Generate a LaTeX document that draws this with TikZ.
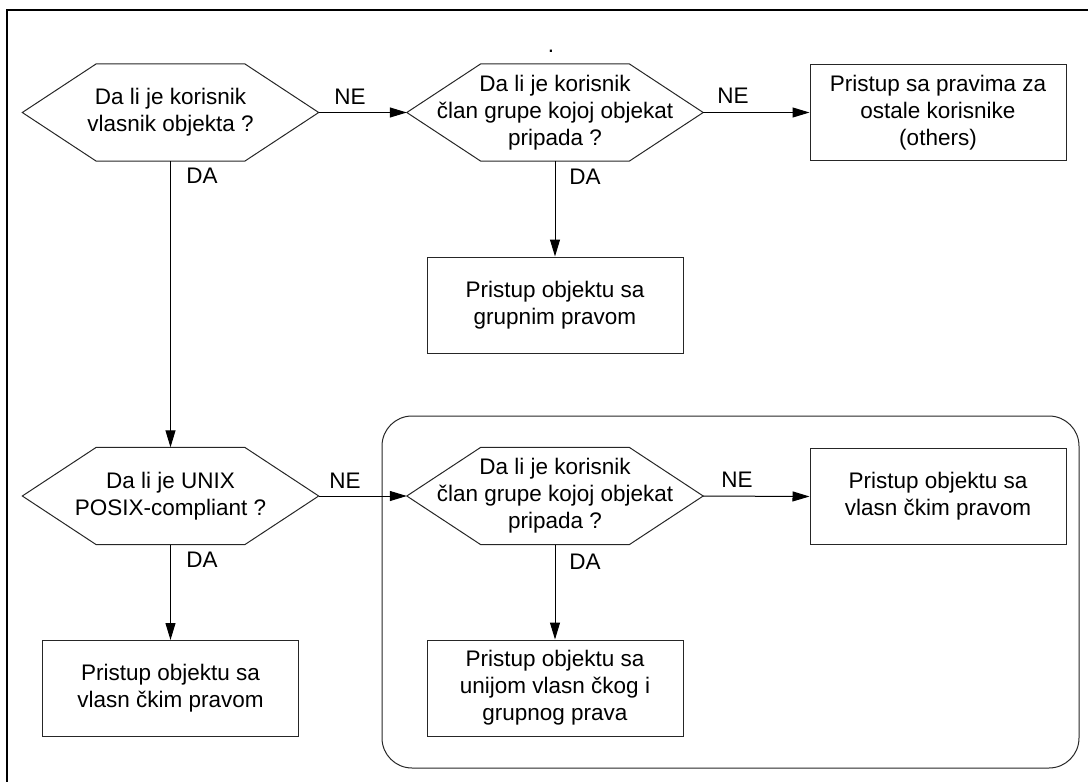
\documentclass[tikz,border=0pt]{standalone}
\usepackage{fontspec}
\setmainfont{Liberation Sans}
\usetikzlibrary{arrows.meta}
\begin{document}
\begin{tikzpicture}[x=1pt,y=-1pt,
  every node/.style={font=\fontsize{22.5}{27}\selectfont, align=center, inner sep=0pt},
  decision/.style={minimum width=296pt, minimum height=97pt},
  action/.style={draw=black!85, line width=1pt, minimum width=256pt, minimum height=96pt},
  shapeline/.style={draw=black!85, line width=1pt},
  arr/.style={line width=1pt, -{Triangle[length=17pt,width=10pt]}},
  lbl/.style={}]
  \useasboundingbox (0,0) rectangle (1088,782);

  % page frame (top and left edges)
  \draw[line width=2.6pt] (7,782) -- (7,10) -- (1088,10);

  % group of POSIX checks
  \draw[shapeline, rounded corners=30pt] (382,416) rectangle (1079,768);

  % decisions
  \node[decision] (q1) at (170.5,112.5) {Da li je korisnik\\vlasnik objekta ?};
  \node[decision] (q2) at (555,112.5) {Da li je korisnik\\član grupe kojoj objekat\\pripada ?};
  \node[decision] (q3) at (170.5,496) {Da li je UNIX\\POSIX-compliant ?};
  \node[decision] (q4) at (555,496) {Da li je korisnik\\član grupe kojoj objekat\\pripada ?};
  \foreach \n in {q1,q2,q3,q4}
    \draw[shapeline] (\n.west) -- ([xshift=74pt]\n.north west) -- ([xshift=-74pt]\n.north east)
      -- (\n.east) -- ([xshift=-74pt]\n.south east) -- ([xshift=74pt]\n.south west) -- cycle;

  % actions
  \node[action] (others) at (938,112.5) {Pristup sa pravima za\\ostale korisnike\\(others)};
  \node[action] (group) at (555,305) {Pristup objektu sa\\grupnim pravom};
  \node[action] (owner) at (170.5,688.5) {Pristup objektu sa\\vlasn čkim pravom};
  \node[action] (owner2) at (938,496.5) {Pristup objektu sa\\vlasn čkim pravom};
  \node[action] (union) at (555,688) {Pristup objektu sa\\unijom vlasn čkog i\\grupnog prava};

  % stray mark above the second decision
  \node (mark) at (551,51) {.};

  % connectors
  \draw[arr] (q1.east) -- (q2.west);
  \draw[arr] (q2.east) -- (others.west);
  \draw[arr] (q2.south) -- (group.north);
  \draw[arr] (q1.south) -- (q3.north);
  \draw[arr] (q3.east) -- (q4.west);
  \draw[arr] (q4.east) -- (owner2.west);
  \draw[arr] (q3.south) -- (owner.north);
  \draw[arr] (q4.south) -- (union.north);

  % branch labels
  \node[lbl] (ne1) at (350,97) {NE};
  \node[lbl] (ne2) at (733,96) {NE};
  \node[lbl] (ne3) at (345,481) {NE};
  \node[lbl] (ne4) at (737,480) {NE};
  \node[lbl] (da1) at (202,176) {DA};
  \node[lbl] (da2) at (585,177) {DA};
  \node[lbl] (da3) at (202,560) {DA};
  \node[lbl] (da4) at (585,562) {DA};
\end{tikzpicture}
\end{document}
